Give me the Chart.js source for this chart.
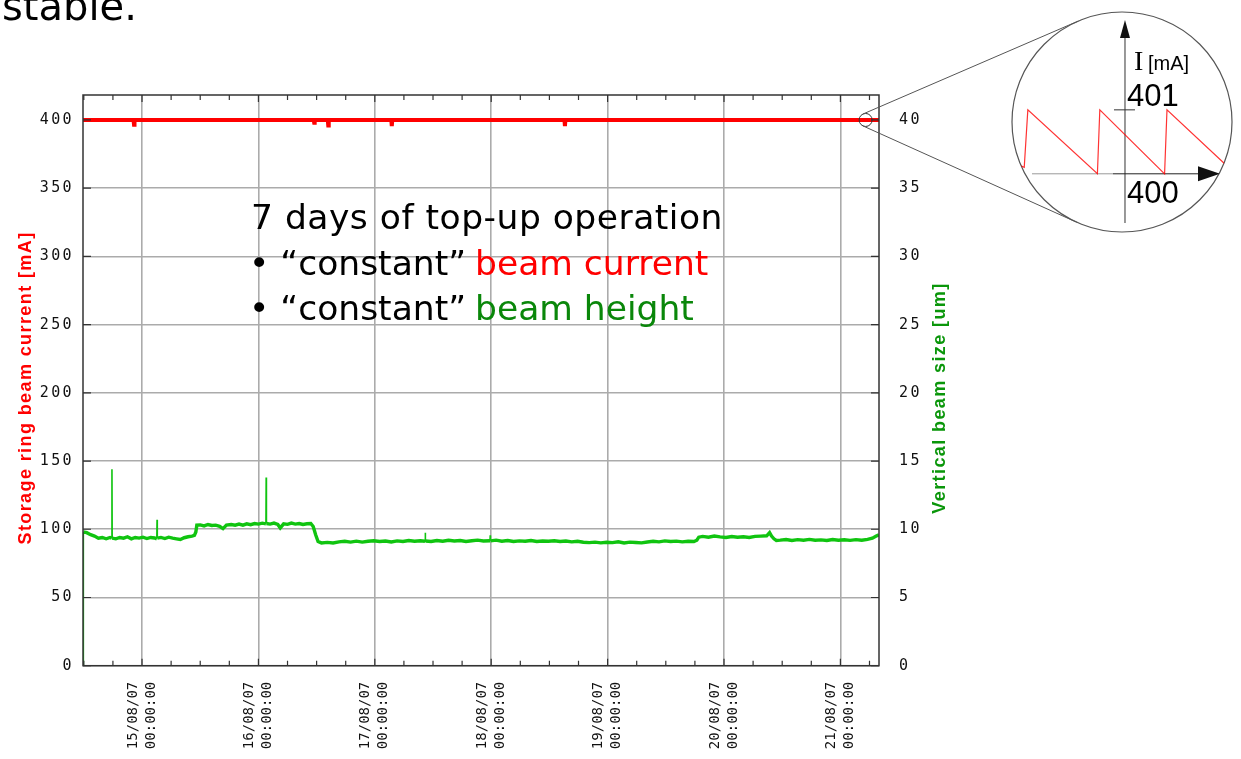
<!DOCTYPE html>
<html>
<head>
<meta charset="utf-8">
<script src="https://cdn.jsdelivr.net/npm/chart.js@4.4.1/dist/chart.umd.min.js"></script>
<style>
  html, body { margin: 0; padding: 0; background: #fff; overflow: hidden; }
  #main { position: absolute; left: 0; top: 0; }
  #zoom { position: absolute; border-radius: 50%; overflow: hidden; }
</style>
</head>
<body>
<canvas id="main" width="1241" height="759"></canvas>
<div id="zoom"><canvas id="inset"></canvas></div>
<script>
// x values are hours after 15/08/07 00:00:00
const dayHours = [0, 24, 48, 72, 96, 120, 144];
const dayLabels = [
  ['15/08/07', '00:00:00'], ['16/08/07', '00:00:00'], ['17/08/07', '00:00:00'],
  ['18/08/07', '00:00:00'], ['19/08/07', '00:00:00'], ['20/08/07', '00:00:00'],
  ['21/08/07', '00:00:00']
];
const tickHours = [-12, -6, 0, 6, 12, 18, 24, 30, 36, 42, 48, 54, 60, 66, 72, 78, 84, 90, 96, 102, 108, 114, 120, 126, 132, 138, 144, 150];
const mATicks = [0, 50, 100, 150, 200, 250, 300, 350, 400];
const umTicks = [0, 5, 10, 15, 20, 25, 30, 35, 40];

// storage ring beam current [mA]
const currentHours = [-12.17, -1.75, -1.65, -1.55, 35.4, 35.5, 35.6, 38.3, 38.4, 38.5, 51.4, 51.5, 51.6, 87.1, 87.2, 87.3, 151.96];
const currentMA    = [400, 400, 396.5, 400, 400, 398, 400, 400, 396, 400, 400, 395.5, 400, 400, 395.5, 400, 400];

// vertical beam size [um]
const sizeHours = [
  -12.17, -12.1, -11.4, -10.6, -9.8, -9.0, -8.2, -7.4, -6.6, -6.25, -6.2, -6.15, -5.4, -4.6, -3.8, -3.0, -2.2, -1.4, -0.6,
  0.2, 1.0, 1.8, 2.6, 3.05, 3.1, 3.15, 3.9, 4.7, 5.5, 6.3, 7.1, 7.9, 8.7, 9.5, 10.3, 10.8, 11.1, 11.3,
  12.0, 12.8, 13.6, 14.4, 15.2, 16.0, 16.7, 17.4, 18.4, 19.2, 20.0, 20.8, 21.6, 22.4, 23.2, 24.0, 24.8, 25.55, 25.6, 25.65,
  26.4, 27.2, 28.0, 28.5, 29.2, 30.0, 30.8, 31.6, 32.4, 33.2, 34.0, 34.8, 35.3, 35.8, 36.3,
  37.0, 38.2, 39.4, 40.6, 41.8, 43.0, 44.2, 45.4, 46.6, 47.8,
  49.0, 50.2, 51.4, 52.6, 53.8, 55.0, 56.2, 57.4, 58.35, 58.4,
  58.45, 59.6, 60.8, 62.0, 63.2, 64.4, 65.6, 66.8, 68.0, 69.2,
  70.4, 71.75, 71.8, 71.85, 73.0, 74.2, 75.4, 76.6, 77.8, 79.0,
  80.2, 81.4, 82.6, 83.8, 85.0, 86.2, 87.4, 88.6, 89.8, 91.0,
  92.2, 93.4, 94.6, 95.8, 97.0, 98.2, 99.4, 100.6, 101.8, 103.0,
  104.2, 105.4, 106.6, 107.8, 109.0, 110.2, 111.4, 112.6, 113.8, 114.4,
  114.8, 115.6, 116.8, 118.0, 119.2, 120.4, 121.6, 122.8, 124.0, 125.2, 126.4, 127.6, 128.8, 129.4, 129.8, 130.3, 130.8,
  131.6, 132.8, 134.0, 135.2, 136.4, 137.6, 138.8, 140.0, 141.2, 142.4, 143.6, 144.8, 146.0, 147.2, 148.4, 149.6, 150.6, 151.4, 151.96
];
const sizeUm = [
  0, 9.8, 9.75, 9.6, 9.5, 9.35, 9.4, 9.3, 9.4, 9.35, 14.4, 9.35, 9.3, 9.4, 9.35, 9.45, 9.3, 9.4, 9.35,
  9.42, 9.32, 9.4, 9.36, 9.3, 10.7, 9.35, 9.4, 9.32, 9.42, 9.35, 9.3, 9.25, 9.38, 9.45, 9.5, 9.55, 9.8, 10.3,
  10.32, 10.25, 10.35, 10.28, 10.3, 10.22, 10.05, 10.3, 10.35, 10.3, 10.38, 10.3, 10.4, 10.34, 10.42, 10.38, 10.45, 10.4, 13.8, 10.42,
  10.38, 10.45, 10.35, 10.1, 10.4, 10.36, 10.45, 10.38, 10.42, 10.35, 10.4, 10.42, 10.2, 9.6, 9.1,
  9.0, 9.04, 9.0, 9.08, 9.12, 9.06, 9.13, 9.06, 9.12, 9.16,
  9.1, 9.14, 9.07, 9.15, 9.1, 9.17, 9.12, 9.16, 9.12, 9.75,
  9.14, 9.1, 9.18, 9.12, 9.19, 9.14, 9.18, 9.1, 9.16, 9.2,
  9.14, 9.16, 9.55, 9.15, 9.2, 9.12, 9.17, 9.1, 9.15, 9.12,
  9.18, 9.1, 9.14, 9.12, 9.16, 9.1, 9.14, 9.08, 9.12, 9.05,
  9.02, 9.06, 9.0, 9.05, 9.02, 9.08, 9.0, 9.06, 9.03, 9.0,
  9.07, 9.12, 9.08, 9.15, 9.1, 9.13, 9.08, 9.12, 9.1, 9.2,
  9.42, 9.48, 9.42, 9.5, 9.44, 9.4, 9.47, 9.42, 9.45, 9.4, 9.48, 9.5, 9.52, 9.75, 9.5, 9.3, 9.18,
  9.2, 9.25, 9.18, 9.24, 9.2, 9.26, 9.2, 9.22, 9.18, 9.25, 9.2, 9.23, 9.19, 9.24, 9.2, 9.26, 9.35, 9.5, 9.6
];

// zoomed top-up sawtooth (minutes around the marked point, mA)
const insetMin = [-9.6, -8.4, -8.1, -2.3, -2.1, 3.3, 3.5, 9.2];
const insetMA  = [400.2, 400.1, 401.0, 400.0, 401.0, 400.0, 401.0, 400.0];
const insetTicks = [400, 401];

const zoomAt = { hour: 149.2, mA: 400 };
const lens = { x: 1122, y: 122, r: 110 };

const GRID = '#ababab';
const FRAME = '#333';

// letter spacing per scale for the tick labels
const labelSpacing = { x: '0px', y: '2.4px', y1: '2.4px' };
const spacingPlugin = {
  id: 'spacing',
  beforeDraw(chart) {
    Object.values(chart.scales).forEach(s => {
      if (s._spaced) return;
      const orig = s.drawLabels.bind(s);
      const sp = labelSpacing[s.id] || '0px';
      s.drawLabels = function (area) {
        const c = this.ctx;
        c.save();
        c.letterSpacing = sp;
        orig(area);
        c.restore();
      };
      s._spaced = true;
    });
  }
};

function rotatedText(ctx, text, x, y, font, color, spacing) {
  ctx.save();
  ctx.translate(x, y);
  ctx.rotate(-Math.PI / 2);
  ctx.font = font;
  ctx.letterSpacing = spacing;
  ctx.fillStyle = color;
  ctx.textAlign = 'center';
  ctx.textBaseline = 'middle';
  ctx.fillText(text, 0, 0);
  ctx.restore();
}

const framePlugin = {
  id: 'frame',
  afterDatasetsDraw(chart) {
    const { ctx, chartArea: a, scales } = chart;
    ctx.save();
    ctx.strokeStyle = FRAME;
    ctx.lineWidth = 1.2;
    // inward tick marks
    ctx.beginPath();
    tickHours.forEach(h => {
      const px = scales.x.getPixelForValue(h);
      const len = dayHours.includes(h) ? 7 : 5;
      ctx.moveTo(px, a.bottom); ctx.lineTo(px, a.bottom - len);
      ctx.moveTo(px, a.top); ctx.lineTo(px, a.top + len);
    });
    mATicks.forEach(v => {
      const py = scales.y.getPixelForValue(v);
      ctx.moveTo(a.left, py); ctx.lineTo(a.left + 8, py);
    });
    umTicks.forEach(v => {
      const py = scales.y1.getPixelForValue(v);
      ctx.moveTo(a.right, py); ctx.lineTo(a.right - 8, py);
    });
    ctx.stroke();
    ctx.lineWidth = 1.5;
    ctx.strokeRect(a.left, a.top, a.right - a.left, a.bottom - a.top);
    ctx.restore();
  },
  afterDraw(chart) {
    const { ctx, scales } = chart;
    ctx.save();
    // axis titles
    rotatedText(ctx, 'Storage ring beam current [mA]', 26, 388, 'bold 18px "Liberation Sans"', '#ff0000', '1.4px');
    rotatedText(ctx, 'Vertical beam size [um]', 940, 398, 'bold 18px "Liberation Sans"', '#0a960a', '1.4px');

    // slide text
    ctx.fillStyle = '#000';
    ctx.textBaseline = 'alphabetic';
    ctx.textAlign = 'left';
    ctx.font = '40px "DejaVu Sans"';
    ctx.fillText('stable.', 2, 20);

    ctx.font = '34.5px "DejaVu Sans"';
    ctx.letterSpacing = '0.5px';
    ctx.fillText('7 days of top-up operation', 251, 229);
    ctx.letterSpacing = '0px';
    const lines = [
      { y: 275, tail: 'beam current', color: '#ff0000' },
      { y: 320, tail: 'beam height', color: '#0a870a' }
    ];
    lines.forEach(l => {
      const head = '\u2022 \u201Cconstant\u201D ';
      ctx.fillStyle = '#000';
      ctx.fillText(head, 249, l.y);
      ctx.fillStyle = l.color;
      ctx.fillText(l.tail, 249 + ctx.measureText(head).width - 2, l.y);
    });

    // zoom marker, lens and connectors
    const mx = scales.x.getPixelForValue(zoomAt.hour);
    const my = scales.y.getPixelForValue(zoomAt.mA);
    const mr = 6.5;
    ctx.strokeStyle = '#333';
    ctx.lineWidth = 1;
    ctx.beginPath();
    ctx.arc(mx, my, mr, 0, Math.PI * 2);
    ctx.stroke();

    const dx = lens.x - mx, dy = lens.y - my;
    const d = Math.hypot(dx, dy);
    const base = Math.atan2(dy, dx);
    const alpha = Math.asin((lens.r - mr) / d);
    ctx.strokeStyle = '#555';
    [-1, 1].forEach(sgn => {
      const dir = base + sgn * alpha;
      const n = dir + sgn * Math.PI / 2;
      ctx.beginPath();
      ctx.moveTo(mx + mr * Math.cos(n), my + mr * Math.sin(n));
      ctx.lineTo(lens.x + lens.r * Math.cos(n), lens.y + lens.r * Math.sin(n));
      ctx.stroke();
    });
    ctx.lineWidth = 1.2;
    ctx.beginPath();
    ctx.arc(lens.x, lens.y, lens.r, 0, Math.PI * 2);
    ctx.stroke();
    ctx.restore();
  }
};

new Chart(document.getElementById('main'), {
  type: 'line',
  data: {
    datasets: [
      {
        label: 'Storage ring beam current',
        data: currentHours.map((h, i) => ({ x: h, y: currentMA[i] })),
        borderColor: '#ff0000',
        borderWidth: 4,
        pointRadius: 0,
        yAxisID: 'y'
      },
      {
        label: 'Vertical beam size',
        data: sizeHours.map((h, i) => ({ x: h, y: sizeUm[i] })),
        borderColor: '#10c410',
        borderWidth: 3.4,
        pointRadius: 0,
        yAxisID: 'y1',
        // the short spikes are single samples: draw them thin
        segment: {
          borderWidth: c => (c.p1.parsed.x - c.p0.parsed.x < 0.1) ? 1.6 : undefined
        }
      }
    ]
  },
  options: {
    responsive: false,
    animation: false,
    events: [],
    layout: { padding: { top: 95, left: 0, right: 0, bottom: 0 } },
    plugins: { legend: { display: false }, tooltip: { enabled: false } },
    scales: {
      x: {
        type: 'linear',
        min: -12.17,
        max: 151.96,
        afterBuildTicks: s => { s.ticks = tickHours.map(v => ({ value: v })); },
        afterFit: s => { s.height = 93.3; },
        border: { display: false },
        grid: {
          color: c => (c.tick && dayHours.includes(c.tick.value)) ? GRID : 'rgba(0,0,0,0)',
          lineWidth: 1.6,
          drawTicks: false
        },
        ticks: {
          autoSkip: false,
          minRotation: 90,
          maxRotation: 90,
          padding: 16,
          labelOffset: -9,
          color: '#111',
          font: { family: 'DejaVu Sans Mono', size: 14, lineHeight: 1.2857 },
          callback: v => {
            const i = dayHours.indexOf(v);
            return i < 0 ? '' : dayLabels[i];
          }
        }
      },
      y: {
        position: 'left',
        min: 0,
        max: 418.3,
        afterBuildTicks: s => { s.ticks = mATicks.map(v => ({ value: v })); },
        afterFit: s => { s.width = 83; },
        border: { display: false },
        grid: { color: GRID, lineWidth: 1.6, drawTicks: false },
        ticks: { padding: 9, color: '#111', font: { family: 'DejaVu Sans Mono', size: 15 } }
      },
      y1: {
        position: 'right',
        min: 0,
        max: 41.83,
        afterBuildTicks: s => { s.ticks = umTicks.map(v => ({ value: v })); },
        afterFit: s => { s.width = 362; },
        border: { display: false },
        grid: { display: false, drawTicks: false },
        ticks: { padding: 20, color: '#111', font: { family: 'DejaVu Sans Mono', size: 15 } }
      }
    }
  },
  plugins: [spacingPlugin, framePlugin]
});

// ---- the magnifier inset ----
const size = lens.r * 2;
const zoomDiv = document.getElementById('zoom');
zoomDiv.style.left = (lens.x - lens.r) + 'px';
zoomDiv.style.top = (lens.y - lens.r) + 'px';
zoomDiv.style.width = size + 'px';
zoomDiv.style.height = size + 'px';
const insetCanvas = document.getElementById('inset');
insetCanvas.width = size;
insetCanvas.height = size;

const insetAxes = {
  id: 'insetAxes',
  beforeDatasetsDraw(chart) {
    const { ctx, scales } = chart;
    const x0 = scales.x.getPixelForValue(0);
    const yLo = scales.y.getPixelForValue(insetTicks[0]);
    const yHi = scales.y.getPixelForValue(insetTicks[1]);
    ctx.save();
    ctx.lineWidth = 1;
    // vertical axis with arrow
    ctx.strokeStyle = '#333';
    ctx.beginPath();
    ctx.moveTo(x0, 211); ctx.lineTo(x0, 24);
    ctx.stroke();
    ctx.fillStyle = '#111';
    ctx.beginPath();
    ctx.moveTo(x0, 8); ctx.lineTo(x0 - 5, 26); ctx.lineTo(x0 + 5, 26); ctx.closePath();
    ctx.fill();
    // horizontal axis with arrow
    ctx.strokeStyle = '#999';
    ctx.beginPath();
    ctx.moveTo(x0 - 93, yLo); ctx.lineTo(x0 - 12, yLo);
    ctx.stroke();
    ctx.strokeStyle = '#222';
    ctx.beginPath();
    ctx.moveTo(x0 - 12, yLo); ctx.lineTo(x0 + 75, yLo);
    ctx.stroke();
    ctx.beginPath();
    ctx.moveTo(x0 + 95, yLo); ctx.lineTo(x0 + 73, yLo - 7.5); ctx.lineTo(x0 + 73, yLo + 7.5); ctx.closePath();
    ctx.fill();
    // tick at 401
    ctx.strokeStyle = '#333';
    ctx.beginPath();
    ctx.moveTo(x0 - 11, yHi); ctx.lineTo(x0 + 10, yHi);
    ctx.stroke();
    // labels
    ctx.fillStyle = '#000';
    ctx.textAlign = 'left';
    ctx.textBaseline = 'alphabetic';
    ctx.font = '31px "Liberation Sans"';
    ctx.fillText(String(insetTicks[1]), x0 + 2, yHi - 4);
    ctx.fillText(String(insetTicks[0]), x0 + 2, yLo + 29);
    ctx.font = '28px "Liberation Serif"';
    ctx.fillText('I', x0 + 9, 58);
    ctx.font = '20px "Liberation Sans"';
    ctx.fillText('[mA]', x0 + 23, 58);
    ctx.restore();
  }
};

new Chart(insetCanvas, {
  type: 'line',
  data: {
    datasets: [{
      data: insetMin.map((t, i) => ({ x: t, y: insetMA[i] })),
      borderColor: 'rgba(255,0,0,0.8)',
      borderWidth: 1.2,
      pointRadius: 0
    }]
  },
  options: {
    responsive: false,
    animation: false,
    events: [],
    layout: { padding: 0, autoPadding: false },
    plugins: { legend: { display: false }, tooltip: { enabled: false } },
    scales: {
      x: { type: 'linear', display: false, min: -9.42, max: 8.92 },
      y: { display: false, min: 399.09, max: 402.53 }
    }
  },
  plugins: [insetAxes]
});
</script>
</body>
</html>
